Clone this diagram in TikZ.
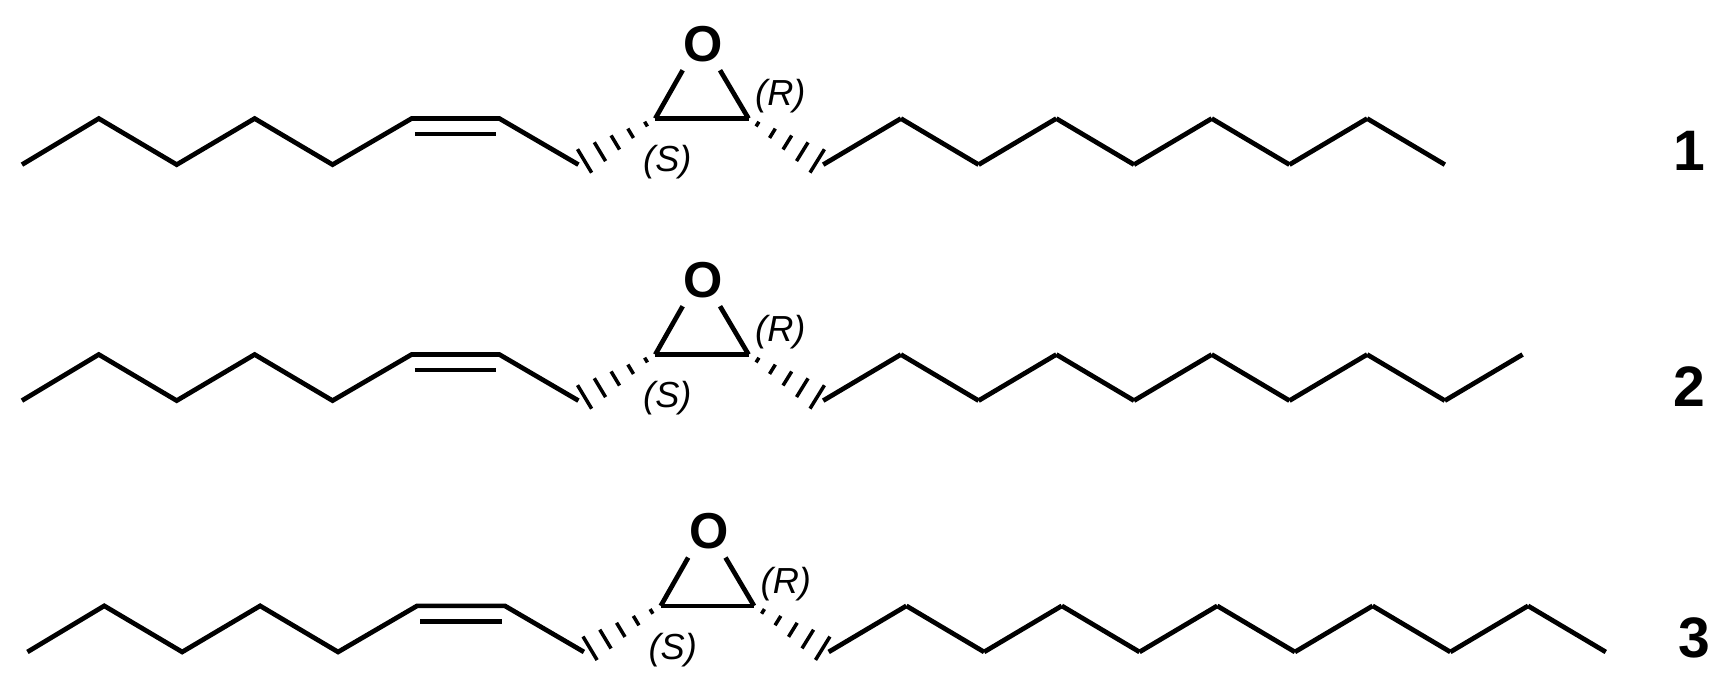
\documentclass[tikz,border=0pt]{standalone}
\usepackage{fontspec}
\setmainfont{Liberation Sans}
\usetikzlibrary{calc}
\tikzset{bond/.style={line width=4.3pt,line join=miter},
  oatom/.style={font=\fontsize{46}{46}\selectfont\bfseries,inner sep=0pt},
  cfg/.style={font=\fontsize{33}{33}\selectfont\itshape,inner sep=0pt},
  num/.style={font=\fontsize{52}{52}\selectfont\bfseries,inner sep=0pt}}
\newcommand\hashb[2]{%
  \foreach \t/\w in {0.12/2.5,0.32/5,0.52/7.5,0.72/10,0.92/12.5}{
    \draw[line width=3.2pt] ($(#1)!\t!(#2)!\w pt!90:(#2)$) -- ($(#1)!\t!(#2)!\w pt!-90:(#2)$);}}
\newcommand\mol[4]{%
\begin{scope}[shift={(#2,#1)}]
  \coordinate (a1) at (20,150); \coordinate (a2) at (90,108); \coordinate (a3) at (161,150);
  \coordinate (a4) at (232,108); \coordinate (a5) at (303,150); \coordinate (a6) at (375,108);
  \coordinate (a7) at (455,108); \coordinate (a8) at (527,150);
  \coordinate (c1) at (597,108); \coordinate (c2) at (682,108);
  \coordinate (o1) at (622,64); \coordinate (o2) at (656,64);
  \coordinate (b0) at (750,150);
  \node[oatom] (O) at (641,40) {O};
  \node[cfg] (R) at (711,88) {(R)};
  \node[cfg] (S) at (608,148) {(S)};
  \draw[bond] (a1)--(a2)--(a3)--(a4)--(a5)--(a6)--(a7)--(a8);
  \draw[bond] ($(a6)+(3,14)$) coordinate (d1) -- ($(a7)+(-3,14)$) coordinate (d2);
  \draw[bond] (c1)--(c2); \draw[bond] (c1)--(o1); \draw[bond] (c2)--(o2);
  \hashb{c1}{a8} \hashb{c2}{b0}
  \foreach \i in {1,...,#3}{
    \pgfmathtruncatemacro\j{\i-1}
    \pgfmathsetmacro\yy{mod(\i,2)==1 ? 108 : 150}
    \coordinate (b\i) at ({750+70.8*\i},\yy);
    \draw[bond,line cap=butt] (b\j)--(b\i);}
  \node[num] (N) at (1539,137) {#4};
\end{scope}}
\begin{document}
\begin{tikzpicture}[x=1pt,y=-1pt]
\useasboundingbox (0,0) rectangle (1568,621);
\mol{0}{0}{8}{1}
\mol{215}{0}{9}{2}
\mol{444}{5}{10}{3}
\end{tikzpicture}
\end{document}
